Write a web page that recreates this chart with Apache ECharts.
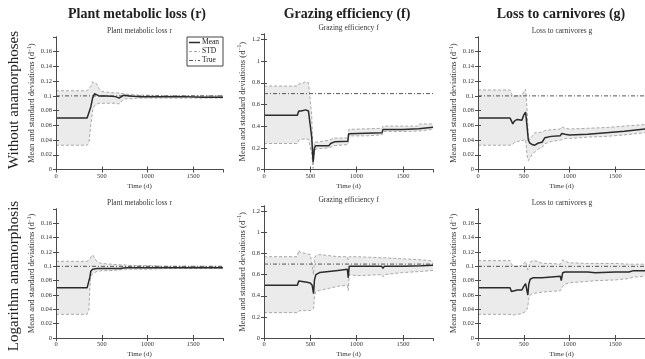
<!DOCTYPE html>
<html><head><meta charset="utf-8">
<script src="https://cdn.jsdelivr.net/npm/echarts@6/dist/echarts.min.js"></script>
<style>html,body{margin:0;padding:0;background:#fff}#c{width:645px;height:359px}</style>
</head><body><div id="c"></div>
<script>
// ---------------- data ----------------
const timeMax = 1825;
const timeInterval = 500;
const columnTitles = ['Plant metabolic loss (r)', 'Grazing efficiency (f)', 'Loss to carnivores (g)'];
const panelTitles = ['Plant metabolic loss r', 'Grazing efficiency f', 'Loss to carnivores g'];
const rowLabels = ['Without anamorphoses', 'Logarithm anamorphosis'];
const legendNames = ['Mean', 'STD', 'True'];
const trueValues = [0.1, 0.7, 0.1];
const yMaxes = [0.18, 1.25, 0.18];
const yIntervals = [0.02, 0.2, 0.02];

// Row 1: without anamorphoses
const rWithoutTime  = [0, 340, 360, 380, 400, 420, 440, 470, 500, 560, 650, 690, 710, 740, 800, 900, 1000, 1200, 1400, 1600, 1825];
const rWithoutMean  = [0.070, 0.070, 0.072, 0.085, 0.097, 0.103, 0.102, 0.100, 0.100, 0.100, 0.099, 0.097, 0.096, 0.101, 0.100, 0.099, 0.099, 0.099, 0.099, 0.098, 0.098];
const rWithoutUpper = [0.107, 0.107, 0.108, 0.113, 0.119, 0.120, 0.117, 0.110, 0.106, 0.105, 0.104, 0.104, 0.103, 0.103, 0.102, 0.101, 0.101, 0.100, 0.100, 0.100, 0.100];
const rWithoutLower = [0.033, 0.033, 0.036, 0.060, 0.080, 0.087, 0.089, 0.090, 0.090, 0.090, 0.090, 0.089, 0.088, 0.096, 0.096, 0.097, 0.097, 0.097, 0.097, 0.097, 0.097];

const fWithoutTime  = [0, 360, 375, 400, 450, 480, 495, 515, 530, 545, 560, 700, 720, 760, 905, 915, 930, 1100, 1275, 1285, 1500, 1670, 1680, 1825];
const fWithoutMean  = [0.50, 0.50, 0.54, 0.54, 0.55, 0.54, 0.53, 0.30, 0.07, 0.20, 0.22, 0.22, 0.24, 0.255, 0.26, 0.33, 0.33, 0.335, 0.34, 0.37, 0.37, 0.375, 0.39, 0.39];
const fWithoutUpper = [0.77, 0.77, 0.79, 0.79, 0.81, 0.80, 0.79, 0.50, 0.12, 0.25, 0.26, 0.27, 0.28, 0.29, 0.29, 0.37, 0.37, 0.375, 0.38, 0.40, 0.40, 0.40, 0.42, 0.42];
const fWithoutLower = [0.24, 0.24, 0.27, 0.28, 0.28, 0.28, 0.28, 0.15, 0.01, 0.16, 0.19, 0.20, 0.21, 0.22, 0.23, 0.31, 0.31, 0.31, 0.32, 0.35, 0.35, 0.355, 0.37, 0.37];

const gWithoutTime  = [0, 350, 365, 380, 400, 430, 480, 500, 520, 535, 550, 565, 590, 620, 660, 700, 730, 800, 900, 915, 950, 1000, 1200, 1400, 1600, 1825];
const gWithoutMean  = [0.070, 0.070, 0.066, 0.062, 0.066, 0.068, 0.067, 0.074, 0.078, 0.060, 0.040, 0.036, 0.034, 0.033, 0.036, 0.037, 0.043, 0.045, 0.046, 0.049, 0.048, 0.047, 0.048, 0.050, 0.052, 0.055];
const gWithoutUpper = [0.108, 0.108, 0.104, 0.099, 0.101, 0.100, 0.100, 0.106, 0.109, 0.085, 0.045, 0.040, 0.045, 0.050, 0.050, 0.051, 0.053, 0.054, 0.055, 0.058, 0.056, 0.055, 0.056, 0.057, 0.059, 0.061];
const gWithoutLower = [0.033, 0.033, 0.033, 0.034, 0.037, 0.038, 0.039, 0.040, 0.041, 0.020, 0.012, 0.015, 0.020, 0.024, 0.028, 0.030, 0.035, 0.038, 0.040, 0.042, 0.042, 0.042, 0.044, 0.045, 0.047, 0.050];

// Row 2: logarithm anamorphosis
const rLogTime  = [0, 340, 360, 370, 380, 400, 420, 450, 500, 600, 700, 760, 800, 1000, 1200, 1500, 1825];
const rLogMean  = [0.070, 0.070, 0.071, 0.085, 0.093, 0.096, 0.097, 0.097, 0.097, 0.097, 0.097, 0.098, 0.098, 0.098, 0.098, 0.098, 0.098];
const rLogUpper = [0.107, 0.107, 0.108, 0.110, 0.113, 0.116, 0.112, 0.106, 0.104, 0.103, 0.102, 0.102, 0.101, 0.101, 0.100, 0.100, 0.100];
const rLogLower = [0.033, 0.033, 0.040, 0.070, 0.085, 0.090, 0.092, 0.093, 0.094, 0.094, 0.095, 0.096, 0.096, 0.096, 0.097, 0.097, 0.097];

const fLogTime  = [0, 360, 375, 390, 450, 500, 520, 535, 545, 560, 600, 700, 800, 900, 910, 920, 1000, 1270, 1285, 1300, 1500, 1700, 1825];
const fLogMean  = [0.50, 0.50, 0.54, 0.54, 0.53, 0.52, 0.50, 0.42, 0.55, 0.60, 0.62, 0.63, 0.64, 0.65, 0.57, 0.68, 0.68, 0.68, 0.66, 0.68, 0.68, 0.685, 0.69];
const fLogUpper = [0.77, 0.77, 0.83, 0.81, 0.80, 0.79, 0.78, 0.60, 0.76, 0.78, 0.79, 0.78, 0.77, 0.77, 0.74, 0.77, 0.77, 0.76, 0.75, 0.76, 0.75, 0.74, 0.73];
const fLogLower = [0.24, 0.24, 0.25, 0.26, 0.26, 0.26, 0.27, 0.28, 0.40, 0.44, 0.45, 0.47, 0.49, 0.50, 0.45, 0.60, 0.59, 0.60, 0.58, 0.60, 0.62, 0.63, 0.64];

const gLogTime  = [0, 350, 365, 380, 430, 480, 500, 520, 535, 545, 555, 570, 600, 650, 660, 700, 800, 900, 910, 925, 950, 1000, 1200, 1280, 1300, 1500, 1650, 1700, 1825];
const gLogMean  = [0.070, 0.070, 0.065, 0.067, 0.067, 0.067, 0.072, 0.076, 0.078, 0.060, 0.075, 0.082, 0.084, 0.084, 0.086, 0.084, 0.085, 0.086, 0.080, 0.091, 0.092, 0.092, 0.092, 0.091, 0.092, 0.092, 0.092, 0.094, 0.094];
const gLogUpper = [0.108, 0.108, 0.104, 0.100, 0.100, 0.101, 0.103, 0.107, 0.108, 0.095, 0.100, 0.106, 0.108, 0.107, 0.105, 0.104, 0.104, 0.103, 0.103, 0.109, 0.107, 0.105, 0.104, 0.104, 0.104, 0.104, 0.103, 0.103, 0.103];
const gLogLower = [0.033, 0.033, 0.032, 0.032, 0.033, 0.034, 0.036, 0.037, 0.040, 0.045, 0.055, 0.060, 0.062, 0.063, 0.063, 0.064, 0.065, 0.066, 0.068, 0.072, 0.075, 0.077, 0.079, 0.080, 0.080, 0.081, 0.083, 0.085, 0.086];

// ---------------- layout ----------------
const panels = [
  {row:0, col:0, t:rWithoutTime, mean:rWithoutMean, up:rWithoutUpper, low:rWithoutLower},
  {row:0, col:1, t:fWithoutTime, mean:fWithoutMean, up:fWithoutUpper, low:fWithoutLower},
  {row:0, col:2, t:gWithoutTime, mean:gWithoutMean, up:gWithoutUpper, low:gWithoutLower},
  {row:1, col:0, t:rLogTime, mean:rLogMean, up:rLogUpper, low:rLogLower},
  {row:1, col:1, t:fLogTime, mean:fLogMean, up:fLogUpper, low:fLogLower},
  {row:1, col:2, t:gLogTime, mean:gLogMean, up:gLogUpper, low:gLogLower}
];
const colLeft = [56, 264, 478];
const colWidth = [167, 169, 168];
const rowBottom = [169.5, 341];
const colTopOffset = [0, -3, 0];
const rowTop = [37, 209];
const SERIF = '"Liberation Serif", "DejaVu Serif", serif';
const AX = '#4a4a4a';
const MEAN_C = '#2b2b2b', STD_C = '#a9a9a9', TRUE_C = '#555555';
const STD_DASH = [3, 2], TRUE_DASH = [4, 2, 1, 2];

const grids = [], xAxes = [], yAxes = [], series = [], graphics = [];
const zip = (a, b) => a.map((v, i) => [v, b[i]]);
const plain = v => String(+v.toFixed(6));

panels.forEach((p, i) => {
  const top = rowTop[p.row] + colTopOffset[p.col];
  const height = rowBottom[p.row] - top;
  grids.push({left: colLeft[p.col], top: top, width: colWidth[p.col], height: height, show: false, containLabel: false});
  const xBase = {gridIndex: i, type: 'value', min: 0, max: timeMax, interval: timeInterval, z: 10,
    axisLine: {show: true, lineStyle: {color: AX, width: 1}},
    axisTick: {show: true, inside: true, length: 3, lineStyle: {color: AX}},
    splitLine: {show: false}};
  xAxes.push(Object.assign({}, xBase, {position: 'bottom',
    axisLabel: {show: true, fontFamily: SERIF, fontSize: 6.5, color: '#333', margin: 3, showMaxLabel: false, formatter: plain},
    name: 'Time (d)', nameLocation: 'middle', nameGap: 13,
    nameTextStyle: {fontFamily: SERIF, fontSize: 7, color: '#333'}}));
  xAxes.push(Object.assign({}, xBase, {position: 'top', axisLabel: {show: false}}));
  const yBase = {gridIndex: i, type: 'value', min: 0, max: yMaxes[p.col], interval: yIntervals[p.col], z: 10,
    axisLine: {show: true, lineStyle: {color: AX, width: 1}},
    axisTick: {show: true, inside: true, length: 3, lineStyle: {color: AX}},
    splitLine: {show: false}};
  yAxes.push(Object.assign({}, yBase, {position: 'left',
    axisLabel: {show: true, fontFamily: SERIF, fontSize: 6.5, color: '#333', margin: 4, showMaxLabel: false, formatter: plain},
    name: '{n|Mean and standard deviations (d}{s|−1}{n|)}', nameLocation: 'middle', nameGap: 17,
    nameTextStyle: {fontFamily: SERIF, fontSize: 8.5, color: '#333',
      rich: {n: {fontFamily: SERIF, fontSize: 8.5, color: '#333', verticalAlign: 'bottom', lineHeight: 11},
             s: {fontFamily: SERIF, fontSize: 5.5, color: '#333', verticalAlign: 'bottom', lineHeight: 11, padding: [0, 0, 4, 0]}}}}));
  yAxes.push(Object.assign({}, yBase, {position: 'right', axisLabel: {show: false}}));

  const xi = 2 * i, yi = 2 * i;
  const common = {type: 'line', xAxisIndex: xi, yAxisIndex: yi, symbol: 'none', showSymbol: false, silent: true, animation: false};
  // shaded band: grey under upper bound, white under lower bound
  series.push(Object.assign({}, common, {name: 'bandUpper', data: zip(p.t, p.up),
    lineStyle: {opacity: 0, width: 0}, areaStyle: {color: '#ebebeb', opacity: 1, origin: 'start'}, z: 1}));
  series.push(Object.assign({}, common, {name: 'bandLower', data: zip(p.t, p.low),
    lineStyle: {opacity: 0, width: 0}, areaStyle: {color: '#ffffff', opacity: 1, origin: 'start'}, z: 2}));
  series.push(Object.assign({}, common, {name: 'STD', data: zip(p.t, p.up),
    lineStyle: {color: STD_C, width: 1, type: STD_DASH}, z: 3}));
  series.push(Object.assign({}, common, {name: 'STD', data: zip(p.t, p.low),
    lineStyle: {color: STD_C, width: 1, type: STD_DASH}, z: 3}));
  series.push(Object.assign({}, common, {name: 'True', data: [[0, trueValues[p.col]], [timeMax, trueValues[p.col]]],
    lineStyle: {color: TRUE_C, width: 1, type: TRUE_DASH}, z: 4}));
  series.push(Object.assign({}, common, {name: 'Mean', data: zip(p.t, p.mean),
    lineStyle: {color: MEAN_C, width: 1.5}, z: 5}));

  graphics.push({type: 'text', x: colLeft[p.col] + colWidth[p.col] / 2, y: top - 5.5, silent: true,
    style: {text: panelTitles[p.col], font: '7.5px ' + SERIF, fill: '#333',
      align: 'center', verticalAlign: 'middle', textAlign: 'center', textVerticalAlign: 'middle'}});
});

const colTitleX = [137, 347, 561];
columnTitles.forEach((t, c) => {
  graphics.push({type: 'text', x: colTitleX[c], y: 14, silent: true,
    style: {text: t, font: 'bold 14px ' + SERIF, fill: '#222',
      align: 'center', verticalAlign: 'middle', textAlign: 'center', textVerticalAlign: 'middle'}});
});
const rowLabelY = [100, 276];
rowLabels.forEach((t, r) => {
  graphics.push({type: 'text', x: 14, y: rowLabelY[r], rotation: Math.PI / 2, silent: true,
    style: {text: t, font: '15px ' + SERIF, fill: '#222',
      align: 'center', verticalAlign: 'middle', textAlign: 'center', textVerticalAlign: 'middle'}});
});

// legend box in first panel (top-right corner)
const legX = 187, legY = 37, legW = 36, legH = 29;
const legendStyles = [
  {stroke: MEAN_C, lineWidth: 1.5, lineDash: null},
  {stroke: STD_C, lineWidth: 1, lineDash: STD_DASH},
  {stroke: TRUE_C, lineWidth: 1, lineDash: TRUE_DASH}
];
graphics.push({type: 'rect', shape: {x: legX, y: legY, width: legW, height: legH}, z: 20, silent: true,
  style: {fill: '#fff', stroke: '#444', lineWidth: 1}});
legendNames.forEach((n, k) => {
  const cy = legY + 5.5 + k * 9;
  graphics.push({type: 'line', z: 21, silent: true, shape: {x1: legX + 2, y1: cy, x2: legX + 13, y2: cy},
    style: Object.assign({fill: null}, legendStyles[k])});
  graphics.push({type: 'text', z: 21, silent: true, x: legX + 15, y: cy,
    style: {text: n, font: '7.5px ' + SERIF, fill: '#222', align: 'left', verticalAlign: 'middle', textAlign: 'left', textVerticalAlign: 'middle'}});
});

const chart = echarts.init(document.getElementById('c'), null, {renderer: 'canvas'});
chart.setOption({
  animation: false,
  backgroundColor: '#fff',
  grid: grids,
  xAxis: xAxes,
  yAxis: yAxes,
  graphic: graphics,
  series: series
});
</script>
</body></html>
